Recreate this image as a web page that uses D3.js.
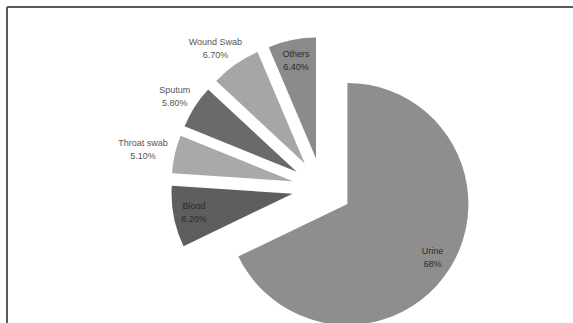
<!DOCTYPE html>
<html>
<head>
<meta charset="utf-8">
<script src="https://cdn.jsdelivr.net/npm/d3@7"></script>
<style>
  html, body { margin: 0; padding: 0; background: #fff; }
  svg { display: block; }
  .lbl { font-family: "Liberation Sans", Arial, sans-serif; font-size: 9px; }
</style>
</head>
<body>
<div id="chart"></div>
<script>
// specimen categories and their share (%)
const categories = ['Urine', 'Blood', 'Throat swab', 'Sputum', 'Wound Swab', 'Others'];
const values = [68, 8.2, 5.1, 5.8, 6.7, 6.4];
const valueLabels = ['68%', '8.20%', '5.10%', '5.80%', '6.70%', '6.40%'];
const sliceColors = ['#8e8e8e', '#5e5e5e', '#a9a9a9', '#6a6a6a', '#a6a6a6', '#8b8b8b'];
const labelInside = [true, true, false, false, false, true];

const width = 573, height = 323;
const cx = 322, cy = 188, radius = 121, explode = 30;

const svg = d3.select('#chart').append('svg')
    .attr('width', width)
    .attr('height', height);

// chart frame (only top and left edges visible in crop)
svg.append('line').attr('x1', 7).attr('y1', 7).attr('x2', width).attr('y2', 7)
    .attr('stroke', '#5a5a5a').attr('stroke-width', 2);
svg.append('line').attr('x1', 7).attr('y1', 7).attr('x2', 7).attr('y2', height)
    .attr('stroke', '#5a5a5a').attr('stroke-width', 2);

const data = categories.map((c, i) => ({ name: c, value: values[i], text: valueLabels[i], color: sliceColors[i], inside: labelInside[i] }));

const pie = d3.pie().sort(null).value(d => d.value);
const arc = d3.arc().innerRadius(0).outerRadius(radius);

const arcs = pie(data);

function dir(a) {
    const m = (a.startAngle + a.endAngle) / 2;
    return [Math.sin(m), -Math.cos(m)];
}

const g = svg.append('g').attr('transform', `translate(${cx},${cy})`);

const slice = g.selectAll('g.slice')
    .data(arcs)
    .enter()
    .append('g')
    .attr('class', 'slice')
    .attr('transform', d => {
        const [dx, dy] = dir(d);
        return `translate(${dx * explode},${dy * explode})`;
    });

slice.append('path')
    .attr('d', arc)
    .attr('fill', d => d.data.color);

slice.each(function(d) {
    const [dx, dy] = dir(d);
    const t = d3.select(this).append('text')
        .attr('class', 'lbl')
        .attr('text-anchor', 'middle')
        .attr('fill', d.data.inside ? '#2a2a2a' : '#555');
    t.append('tspan').attr('x', 0).attr('dy', 0).text(d.data.name);
    t.append('tspan').attr('x', 0).attr('dy', 13).text(d.data.text);

    const bb = t.node().getBBox();
    let px, py;
    if (d.data.inside) {
        px = dx * radius * 0.83;
        py = dy * radius * 0.83;
    } else {
        const r = radius + 8;
        px = dx * r + dx * bb.width / 2;
        py = dy * r + dy * bb.height / 2;
    }
    // centre the two-line block on (px, py)
    const oy = py - (bb.y + bb.height / 2);
    t.attr('transform', `translate(${px},${oy})`);
});
</script>
</body>
</html>
